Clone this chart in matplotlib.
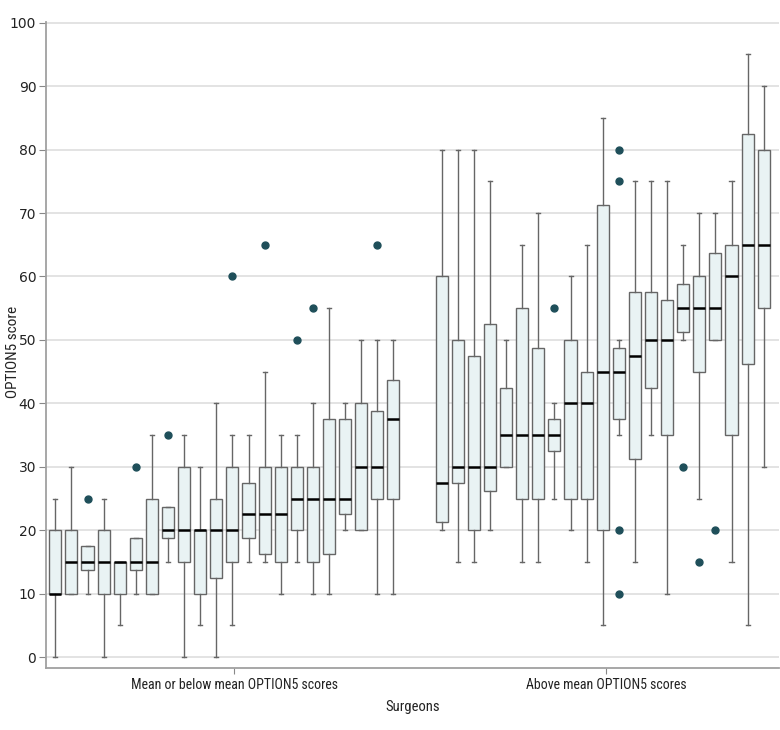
import matplotlib
matplotlib.use("Agg")
import matplotlib.pyplot as plt
from matplotlib import font_manager

# per-surgeon box statistics
groups = ["Mean or below mean OPTION5 scores", "Above mean OPTION5 scores"]

low_whislo = [0, 10, 10, 0, 5, 10, 10, 15, 0, 5, 0, 5, 15, 15, 10, 15, 10, 10, 20, 20, 10, 10]
low_q1 = [10, 10, 13.75, 10, 10, 13.75, 10, 18.75, 15, 10, 12.5, 15, 18.75, 16.25, 15, 20, 15, 16.25, 22.5, 20, 25, 25]
low_med = [10, 15, 15, 15, 15, 15, 15, 20, 20, 20, 20, 20, 22.5, 22.5, 22.5, 25, 25, 25, 25, 30, 30, 37.5]
low_q3 = [20, 20, 17.5, 20, 15, 18.75, 25, 23.75, 30, 20, 25, 30, 27.5, 30, 30, 30, 30, 37.5, 37.5, 40, 38.75, 43.75]
low_whishi = [25, 30, 17.5, 25, 15, 18.75, 35, 23.75, 35, 30, 40, 35, 35, 45, 35, 35, 40, 55, 40, 50, 50, 50]
low_fliers = [[], [], [25], [], [], [30], [], [35], [], [], [], [60], [], [65], [], [50], [55], [], [], [], [65], []]

high_whislo = [20, 15, 15, 20, 30, 15, 15, 25, 20, 15, 5, 35, 15, 35, 10, 50, 25, 50, 15, 5, 30]
high_q1 = [21.25, 27.5, 20, 26.25, 30, 25, 25, 32.5, 25, 25, 20, 37.5, 31.25, 42.5, 35, 51.25, 45, 50, 35, 46.25, 55]
high_med = [27.5, 30, 30, 30, 35, 35, 35, 35, 40, 40, 45, 45, 47.5, 50, 50, 55, 55, 55, 60, 65, 65]
high_q3 = [60, 50, 47.5, 52.5, 42.5, 55, 48.75, 37.5, 50, 45, 71.25, 48.75, 57.5, 57.5, 56.25, 58.75, 60, 63.75, 65, 82.5, 80]
high_whishi = [80, 80, 80, 75, 50, 65, 70, 40, 60, 65, 85, 50, 75, 75, 75, 65, 70, 70, 75, 95, 90]
high_fliers = [[], [], [], [], [], [], [], [55], [], [], [], [80, 75, 20, 10], [], [], [], [30], [15], [20], [], [], []]

yticks = list(range(0, 101, 10))

def make_stats(lo, q1, med, q3, hi, fl):
    return [dict(whislo=a, q1=b, med=c, q3=d, whishi=e, fliers=f)
            for a, b, c, d, e, f in zip(lo, q1, med, q3, hi, fl)]

stats_low = make_stats(low_whislo, low_q1, low_med, low_q3, low_whishi, low_fliers)
stats_high = make_stats(high_whislo, high_q1, high_med, high_q3, high_whishi, high_fliers)

gap = 3
pos_low = list(range(len(stats_low)))
start_high = len(stats_low) - 1 + gap
pos_high = list(range(start_high, start_high + len(stats_high)))

# a condensed face for the labels, whichever is installed
installed = set(f.name for f in font_manager.fontManager.ttflist)
cond = "DejaVu Sans"
for name in ["Roboto Condensed", "Fira Sans Condensed", "PT Sans Narrow", "Archivo Narrow",
             "Open Sans Condensed", "Liberation Sans Narrow", "Encode Sans Condensed", "Akshar"]:
    if name in installed:
        cond = name
        break

fig = plt.figure(figsize=(7.8, 7.3), dpi=100)
ax = fig.add_axes([46 / 780, 62 / 730, 733 / 780, 646 / 730])

ax.set_axisbelow(True)
ax.yaxis.grid(True, color="#dedede", linewidth=1.2)

box_kw = dict(
    widths=0.75,
    patch_artist=True,
    showfliers=True,
    boxprops=dict(facecolor="#e9f3f4", edgecolor="#666666", linewidth=1.0),
    medianprops=dict(color="black", linewidth=1.8),
    whiskerprops=dict(color="#666666", linewidth=1.0),
    capprops=dict(color="#666666", linewidth=1.0),
    capwidths=0.25,
    flierprops=dict(marker="o", markerfacecolor="#1f4f5a", markeredgecolor="#1f4f5a",
                    markersize=5),
)
ax.bxp(stats_low, positions=pos_low, **box_kw)
ax.bxp(stats_high, positions=pos_high, **box_kw)

ax.set_xlim(-0.58, pos_high[-1] + 0.95)
ax.set_ylim(-1.7, 100.1)

ax.set_yticks(yticks)
ax.set_yticklabels([str(t) for t in yticks], fontsize=10, color="#222222")
ax.tick_params(axis="y", length=5, color="#888888", pad=2)
ax.set_xticks([(pos_low[0] + pos_low[-1]) / 2 + 0.6, (pos_high[0] + pos_high[-1]) / 2 + 0.2])
ax.set_xticklabels(groups, family=cond, fontsize=10, color="#222222")
ax.tick_params(axis="x", length=4, color="#888888", pad=3)

for s in ["top", "right"]:
    ax.spines[s].set_visible(False)
for s in ["left", "bottom"]:
    ax.spines[s].set_color("#a0a0a0")
    ax.spines[s].set_linewidth(1.3)

ax.set_ylabel("OPTION5 score", family=cond, fontsize=11, color="#222222")
ax.yaxis.set_label_coords(-26 / 733, 0.49)
ax.set_xlabel("Surgeons", family=cond, fontsize=10.5, color="#222222", labelpad=6)

fig.savefig("out.png", dpi=100)
